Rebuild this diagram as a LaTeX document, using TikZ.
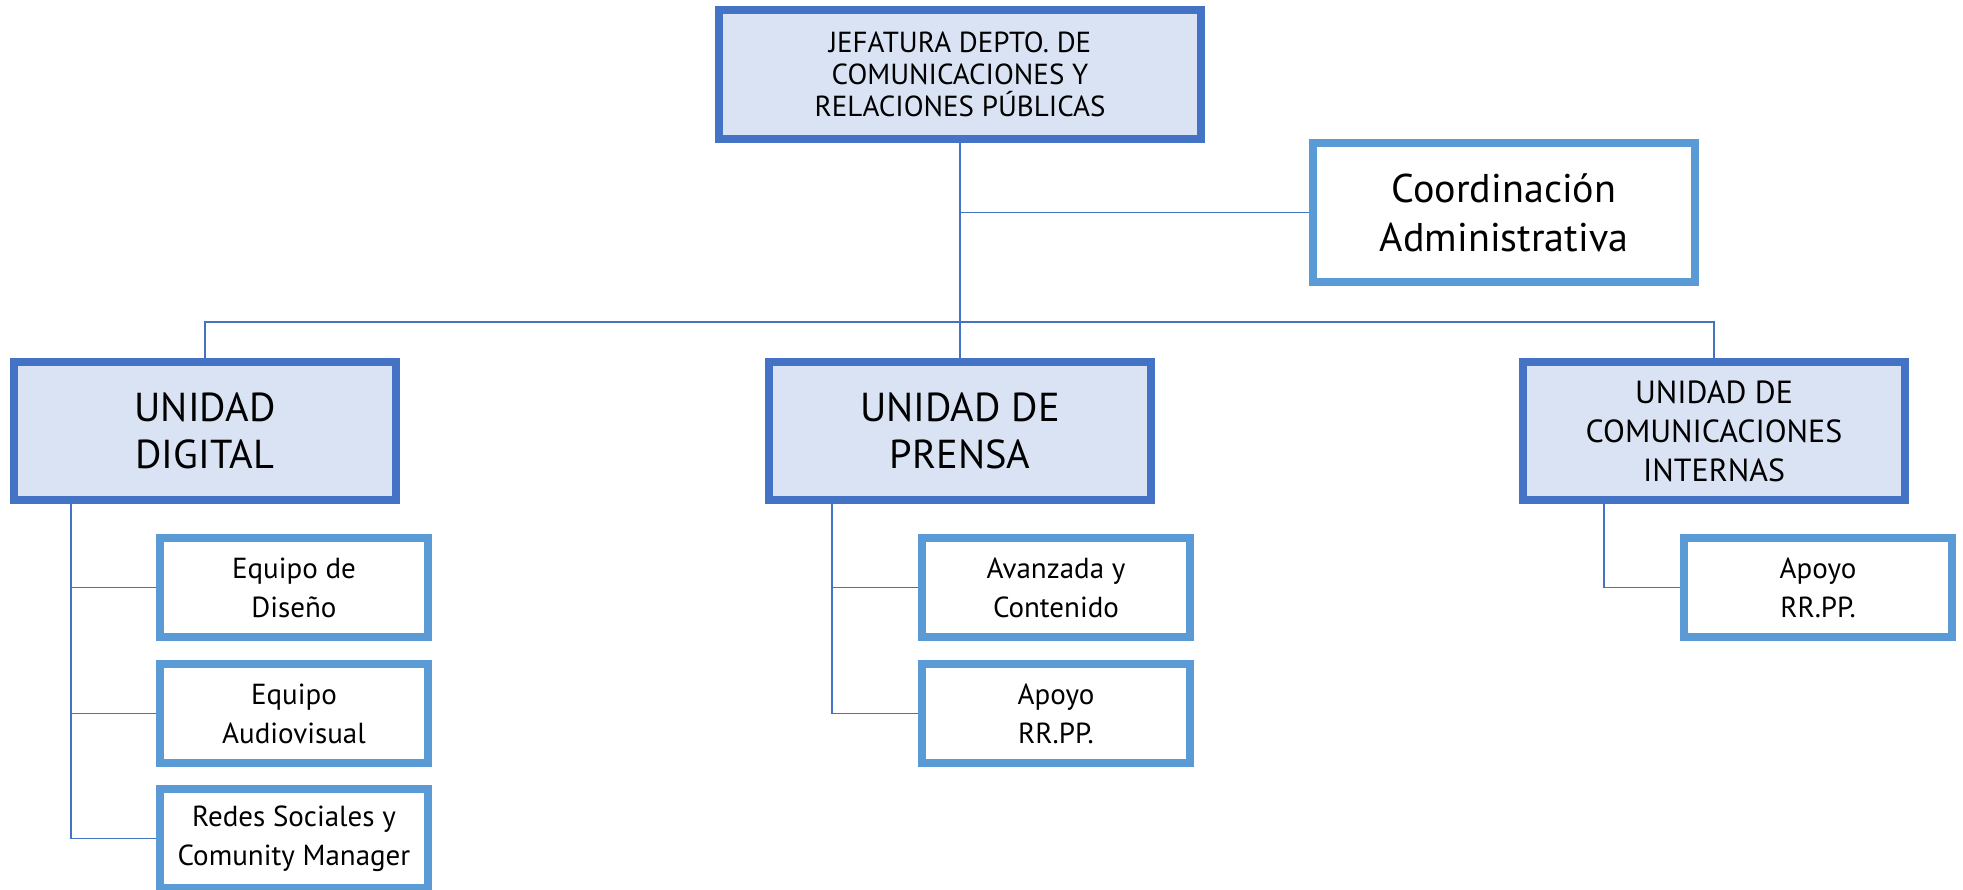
\documentclass[tikz,border=0pt]{standalone}
\usepackage{fontspec}
\setmainfont{PT Sans}
\usepackage{tikz}

\definecolor{jefe}{HTML}{4472C4}
\definecolor{unidadfill}{HTML}{DAE3F3}
\definecolor{equipo}{HTML}{5B9BD5}

\tikzset{
  jefatura/.style={draw=jefe, fill=unidadfill, line width=4.5pt, rectangle, inner sep=0pt, align=center},
  apoyo/.style={draw=equipo, fill=white, line width=4.5pt, rectangle, inner sep=0pt, align=center,
    minimum width=5.36cm, minimum height=1.98cm, font=\fontsize{16.5}{22.2}\selectfont},
  unidad/.style={jefatura, minimum width=7.64cm, minimum height=2.76cm},
  linea/.style={draw=jefe, line width=1.1pt}
}

\begin{document}
\begin{tikzpicture}[x=0.02cm, y=-0.02cm]
\useasboundingbox (0,0) rectangle (1963,889);

\node[jefatura, minimum width=9.64cm, minimum height=2.58cm, font=\fontsize{16.5}{18.4}\selectfont](J) at (960,74.5)
  {JEFATURA DEPTO. DE\\COMUNICACIONES Y\\RELACIONES PÚBLICAS};
\node[apoyo, minimum width=7.64cm, minimum height=2.78cm, font=\fontsize{22.8}{28}\selectfont](CA) at (1504,212.5)
  {Coordinación\\Administrativa};

\node[unidad, font=\fontsize{23}{26.8}\selectfont](U1) at (205,431) {UNIDAD\\DIGITAL};
\node[unidad, font=\fontsize{23}{26.8}\selectfont](U2) at (960,431) {UNIDAD DE\\PRENSA};
\node[unidad, font=\fontsize{18.2}{22.2}\selectfont](U3) at (1714,431) {UNIDAD DE\\COMUNICACIONES\\INTERNAS};

\node[apoyo](S11) at (294,587.5) {Equipo de\\Diseño};
\node[apoyo](S12) at (294,713.5) {Equipo\\Audiovisual};
\node[apoyo](S13) at (294,838.5) {Redes Sociales y\\Comunity Manager};

\node[apoyo](S21) at (1056,587.5) {Avanzada y\\Contenido};
\node[apoyo](S22) at (1056,713.5) {Apoyo\\RR.PP.};

\node[apoyo](S31) at (1818,587.5) {Apoyo\\RR.PP.};

% tronco principal
\coordinate (bus) at (960,322);
\coordinate (D) at (71,504);
\coordinate (P) at (832,504);
\coordinate (C) at (1604,504);

\draw[linea](J.south) to (U2.north);
\draw[linea](CA.west) to (CA.west -| J.south);
\draw[linea](U1.north) |- (bus) -| (U3.north);

% equipos
\draw[linea](D) |- (S13.west);
\draw[linea](S11.west) to (S11.west -| D);
\draw[linea](S12.west) to (S12.west -| D);
\draw[linea](P) |- (S22.west);
\draw[linea](S21.west) to (S21.west -| P);
\draw[linea](C) |- (S31.west);
\end{tikzpicture}
\end{document}
